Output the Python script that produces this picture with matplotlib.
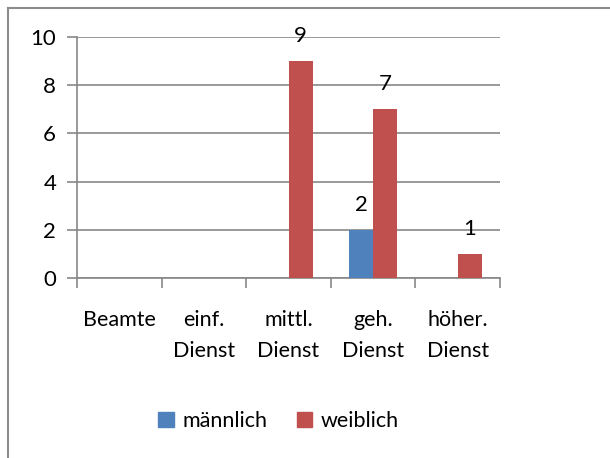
import matplotlib
matplotlib.use("Agg")
from matplotlib import pyplot as plt
from matplotlib.patches import Patch
import numpy as np

categories = ["Beamte", "einf.\nDienst", "mittl.\nDienst", "geh.\nDienst", "höher.\nDienst"]
maennlich = [0, 0, 0, 2, 0]
weiblich = [0, 0, 9, 7, 1]
series_names = ["männlich", "weiblich"]
y_ticks = [0, 2, 4, 6, 8, 10]

blue = "#4F81BD"
red = "#C0504D"
grid_col = "#878787"

plt.rcParams["font.family"] = ["Lato", "DejaVu Sans"]

fig = plt.figure(figsize=(6.1, 4.58), dpi=100)
ax = fig.add_axes([77 / 610, 1 - 278 / 458, (500 - 77) / 610, (278 - 37) / 458])

x = np.arange(len(categories))
w = 0.285
b1 = ax.bar(x - w / 2, maennlich, w, color=blue, zorder=3)
b2 = ax.bar(x + w / 2, weiblich, w, color=red, zorder=3)

for bars, vals in ((b1, maennlich), (b2, weiblich)):
    ax.bar_label(bars, labels=[str(v) if v else "" for v in vals],
                 padding=11, fontsize=16)

ax.set_xlim(-0.5, len(categories) - 0.5)
ax.set_ylim(0, 10)
ax.set_yticks(y_ticks)
ax.tick_params(axis="y", length=7, width=1.2, color=grid_col, labelsize=16, pad=8)
ax.yaxis.grid(True, color=grid_col, linewidth=1.2, zorder=0)
ax.set_axisbelow(True)

ax.set_xticks(np.arange(len(categories) + 1) - 0.5, minor=False)
ax.set_xticklabels([])
ax.tick_params(axis="x", which="major", length=7, width=1.2, color=grid_col)
ax.set_xticks(x, minor=True)
ax.set_xticklabels(categories, minor=True, fontsize=15.5, linespacing=1.7)
ax.tick_params(axis="x", which="minor", length=0, pad=23)

for s in ["top", "right"]:
    ax.spines[s].set_visible(False)
for s in ["left", "bottom"]:
    ax.spines[s].set_color(grid_col)
    ax.spines[s].set_linewidth(1.2)

handles = [Patch(color=blue), Patch(color=red)]
fig.legend(handles, series_names, loc="center", bbox_to_anchor=(0.457, 1 - 421 / 458),
           ncol=2, frameon=False, fontsize=15.5, handlelength=0.7, handleheight=0.7,
           handletextpad=0.4, columnspacing=1.4)

# chart frame (left and top edges visible)
fig.add_artist(plt.Line2D([8 / 610, 8 / 610], [0, 1 - 8 / 458], color="#8c8c8c",
                          linewidth=1.5, transform=fig.transFigure))
fig.add_artist(plt.Line2D([8 / 610, 1], [1 - 8 / 458, 1 - 8 / 458], color="#8c8c8c",
                          linewidth=1.5, transform=fig.transFigure))

fig.savefig("out.png", dpi=100)
